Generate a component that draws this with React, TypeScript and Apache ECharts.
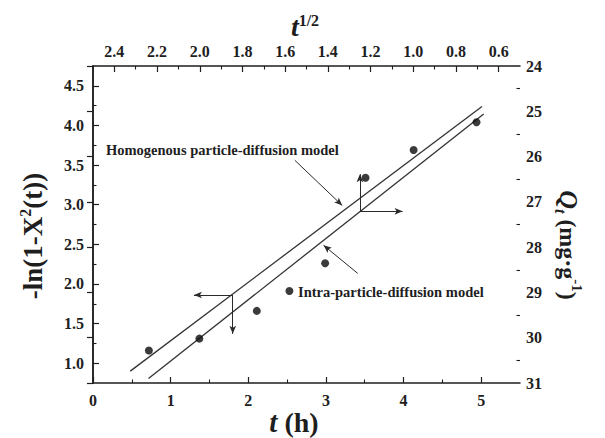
import { useEffect, useRef } from "react";
import * as echarts from "echarts";

// Measured kinetics: t (h) against -ln(1-X²(t))
const hours = [0.72, 1.37, 2.11, 2.53, 2.99, 3.51, 4.13, 4.94];
const lnValues = [1.16, 1.31, 1.66, 1.91, 2.26, 3.34, 3.69, 4.04];

// Fitted lines: homogenous model on t / -ln(1-X²), intra-particle model on t^1/2 / Qt
const homogenousFit = [
  [0.48, 0.9],
  [5.01, 4.24],
];
const intraFit = [
  [2.24, 30.9],
  [0.67, 25.06],
];

// Axis ticks
const bottomTicks = [0, 1, 2, 3, 4, 5];
const bottomMinor = [0.5, 1.5, 2.5, 3.5, 4.5];
const topTicks = [2.4, 2.2, 2.0, 1.8, 1.6, 1.4, 1.2, 1.0, 0.8, 0.6];
const topMinor = [2.3, 2.1, 1.9, 1.7, 1.5, 1.3, 1.1, 0.9, 0.7];
const leftTicks = [1.0, 1.5, 2.0, 2.5, 3.0, 3.5, 4.0, 4.5];
const leftMinor = [1.25, 1.75, 2.25, 2.75, 3.25, 3.75, 4.25];
const rightTicks = [24, 25, 26, 27, 28, 29, 30, 31];
const rightMinor = [24.5, 25.5, 26.5, 27.5, 28.5, 29.5, 30.5];

// Guide arrows: [from, to]
const homogenousGuides = [
  [[1.8, 1.86], [1.3, 1.86]],
  [[1.8, 1.86], [1.8, 1.37]],
  [[2.6, 3.56], [3.21, 2.99]],
];
const intraGuides = [
  [[1.25, 27.21], [1.25, 26.39]],
  [[1.25, 27.21], [1.05, 27.21]],
  [[1.26, 28.58], [1.42, 27.96]],
];

const FONT = '"Liberation Serif", "Times New Roman", serif';
const INK = "#1e1e1e";

const labelStyle = (margin: number, values: number[], digits: number) => ({
  show: true,
  customValues: values,
  color: INK,
  fontFamily: FONT,
  fontWeight: "bold" as const,
  fontSize: 16,
  margin,
  formatter: (v: number) => v.toFixed(digits),
});

const axisLine = { show: true, lineStyle: { color: INK, width: 1.5 } };

function majorAxis(extra: any, ticks: number[], margin: number, digits: number) {
  return {
    type: "value",
    splitLine: { show: false },
    axisLine,
    axisTick: { show: true, inside: true, length: 6, customValues: ticks, lineStyle: { color: INK, width: 1.2 } },
    axisLabel: labelStyle(margin, ticks, digits),
    ...extra,
  };
}

function minorAxis(extra: any, ticks: number[]) {
  return {
    type: "value",
    splitLine: { show: false },
    axisLine: { show: false },
    axisLabel: { show: false },
    axisTick: { show: true, inside: true, length: 3.5, customValues: ticks, lineStyle: { color: INK, width: 1.1 } },
    ...extra,
  };
}

const guideLines = (guides: number[][][]) => ({
  silent: true,
  symbol: ["none", "arrow"],
  symbolSize: [5, 8],
  label: { show: false },
  lineStyle: { color: "#2a2a2a", width: 1, type: "solid" },
  emphasis: { disabled: true },
  data: guides.map(([a, b]) => [{ coord: a }, { coord: b }]),
});

export default function App() {
  const ref = useRef<HTMLDivElement>(null);

  useEffect(() => {
    if (!ref.current) return;
    const chart = echarts.init(ref.current, null, { renderer: "svg" });

    const option: any = {
      animation: false,
      backgroundColor: "#ffffff",
      grid: { left: 93, right: 85, top: 66, bottom: 55, containLabel: false },
      xAxis: [
        majorAxis({ position: "bottom", min: 0, max: 5.5 }, bottomTicks, 9, 0),
        majorAxis({ position: "top", min: 0.5, max: 2.5, inverse: true }, topTicks, 7, 1),
        minorAxis({ position: "bottom", min: 0, max: 5.5 }, bottomMinor),
        minorAxis({ position: "top", min: 0.5, max: 2.5, inverse: true }, topMinor),
      ],
      yAxis: [
        majorAxis({ position: "left", min: 0.75, max: 4.75 }, leftTicks, 9, 1),
        majorAxis({ position: "right", min: 24, max: 31, inverse: true }, rightTicks, 6, 0),
        minorAxis({ position: "left", min: 0.75, max: 4.75 }, leftMinor),
        minorAxis({ position: "right", min: 24, max: 31, inverse: true }, rightMinor),
      ],
      series: [
        {
          name: "Homogenous particle-diffusion model",
          type: "line",
          xAxisIndex: 0,
          yAxisIndex: 0,
          data: homogenousFit,
          symbol: "none",
          lineStyle: { color: "#333", width: 1.3 },
          silent: true,
          markLine: guideLines(homogenousGuides),
        },
        {
          name: "Intra-particle-diffusion model",
          type: "line",
          xAxisIndex: 1,
          yAxisIndex: 1,
          data: intraFit,
          symbol: "none",
          lineStyle: { color: "#333", width: 1.3 },
          silent: true,
          markLine: guideLines(intraGuides),
        },
        {
          name: "experimental",
          type: "scatter",
          xAxisIndex: 0,
          yAxisIndex: 0,
          data: hours.map((t, i) => [t, lnValues[i]]),
          symbol: "circle",
          symbolSize: 8,
          itemStyle: { color: "#0a0a0a" },
          z: 5,
        },
      ],
      graphic: [
        {
          type: "text",
          x: 106,
          y: 150,
          style: {
            text: "Homogenous particle-diffusion model",
            font: `bold 14.5px ${FONT}`,
            fill: INK,
            verticalAlign: "middle",
          },
        },
        {
          type: "text",
          x: 298,
          y: 292,
          style: {
            text: "Intra-particle-diffusion model",
            font: `bold 14.5px ${FONT}`,
            fill: INK,
            verticalAlign: "middle",
          },
        },
        {
          type: "text",
          x: 33,
          y: 236,
          rotation: Math.PI / 2,
          style: {
            text: "{a|-ln(1-X}{s|2}{a|(t))}",
            align: "center",
            verticalAlign: "middle",
            fill: INK,
            rich: {
              a: { fontFamily: FONT, fontWeight: "bold", fontSize: 27, lineHeight: 32, fill: INK },
              s: { fontFamily: FONT, fontWeight: "bold", fontSize: 16, lineHeight: 17, verticalAlign: "top", fill: INK },
            },
          },
        },
        {
          type: "text",
          x: 568,
          y: 245,
          rotation: -Math.PI / 2,
          style: {
            text: "{q|Q}{t|t}{a| (mg·g}{s|-1}{a|)}",
            align: "center",
            verticalAlign: "middle",
            fill: INK,
            rich: {
              q: { fontFamily: FONT, fontWeight: "bold", fontStyle: "italic", fontSize: 26, lineHeight: 32, fill: INK },
              t: { fontFamily: FONT, fontWeight: "bold", fontStyle: "italic", fontSize: 16, lineHeight: 17, verticalAlign: "bottom", fill: INK },
              a: { fontFamily: FONT, fontWeight: "bold", fontSize: 24, lineHeight: 32, fill: INK },
              s: { fontFamily: FONT, fontWeight: "bold", fontSize: 15, lineHeight: 17, verticalAlign: "top", fill: INK },
            },
          },
        },
        {
          type: "text",
          x: 294,
          y: 422,
          style: {
            text: "{t|t}{a| (h)}",
            align: "center",
            verticalAlign: "middle",
            fill: INK,
            rich: {
              t: { fontFamily: FONT, fontWeight: "bold", fontStyle: "italic", fontSize: 29, lineHeight: 26, fill: INK },
              a: { fontFamily: FONT, fontWeight: "bold", fontSize: 28, lineHeight: 26, fill: INK },
            },
          },
        },
        {
          type: "text",
          x: 305,
          y: 26,
          style: {
            text: "{t|t}{s|1/2}",
            align: "center",
            verticalAlign: "middle",
            fill: INK,
            rich: {
              t: { fontFamily: FONT, fontWeight: "bold", fontStyle: "italic", fontSize: 28, lineHeight: 28, fill: INK },
              s: { fontFamily: FONT, fontWeight: "bold", fontSize: 16, lineHeight: 16, verticalAlign: "top", fill: INK },
            },
          },
        },
      ],
    };

    chart.setOption(option);
    return () => chart.dispose();
  }, []);

  return (
    <div
      ref={ref}
      style={{ position: "absolute", left: 0, top: 0, width: 605, height: 438, background: "#fff" }}
    />
  );
}
